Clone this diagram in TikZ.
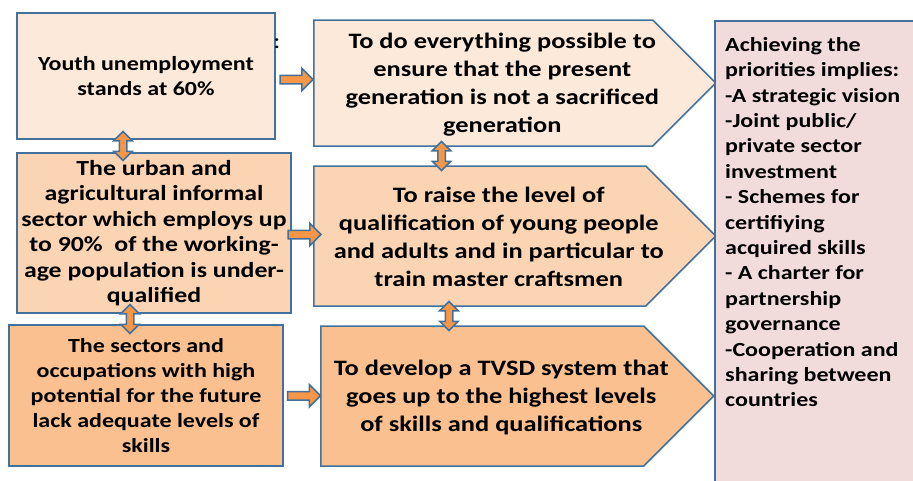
\documentclass[tikz,border=0pt]{standalone}
\usepackage{fontspec}
\setmainfont{Carlito}[FakeStretch=1.2]
\usepackage{tikz}
\usetikzlibrary{arrows.meta,positioning,shapes.arrows,shapes.symbols}

\definecolor{edgeblue}{HTML}{41719C}
\definecolor{peachA}{HTML}{FDE9D9}
\definecolor{peachB}{HTML}{FBD4B4}
\definecolor{peachC}{HTML}{FAC090}
\definecolor{roseG}{HTML}{F2DCDB}
\definecolor{arroworange}{HTML}{F79646}

\tikzset{
  box/.style={draw=edgeblue, line width=1.5pt, align=center, inner sep=0pt,
    font=\fontsize{20}{25}\selectfont\bfseries},
  goal/.style={signal, signal to=east, signal pointer angle=90, draw=edgeblue,
    line width=1.5pt, inner sep=0pt, anchor=west},
  goaltext/.style={align=center, font=\fontsize{22}{28}\selectfont\bfseries},
  harrow/.style={single arrow, draw=edgeblue, fill=arroworange, line width=1.5pt,
    inner xsep=0pt, inner ysep=3.5pt, minimum height=33, single arrow head extend=7pt},
  varrow/.style={double arrow, draw=edgeblue, fill=arroworange, line width=1.5pt,
    inner xsep=0pt, inner ysep=3pt, minimum height=29, double arrow head extend=5.5pt,
    rotate=90}
}

\begin{document}
\begin{tikzpicture}[x=1pt, y=-1pt, >=Stealth]
    \useasboundingbox (0,0) rectangle (913,480);
    \clip (0,0) rectangle (913,480);

    % Situation
    \node[box, fill=peachA, minimum width=258, minimum height=126] (youth) at (146,76)
      {Youth unemployment\\stands at 60\%};
    \node[box, fill=peachB, minimum width=274, minimum height=160,
      font=\fontsize{21.5}{25.5}\selectfont\bfseries] (informal) at (154,233)
      {The urban and\\agricultural informal\\sector which employs up\\to 90\%\ \ of the working-\\age population is under-\\qualified};
    \node[box, fill=peachC, minimum width=274, minimum height=141] (sectors) at (146,395.5)
      {The sectors and\\occupations with high\\potential for the future\\lack adequate levels of\\skills};
    \node[font=\fontsize{22}{25}\selectfont] (colon) at (277,44) {:};

    % Priorities
    \node[goal, fill=peachA, minimum width=402, minimum height=126,
      label={[goaltext, xshift=19, yshift=-2]center:To do everything possible to\\ensure that the present\\generation is not a sacrificed\\generation}]
      (present) at (313,83) {};
    \node[goal, fill=peachB, minimum width=402, minimum height=140,
      label={[goaltext, xshift=19, yshift=-1]center:To raise the level of\\qualification of young people\\and adults and in particular to\\train master craftsmen}]
      (qualify) at (313,236) {};
    \node[goal, fill=peachC, minimum width=393, minimum height=140,
      label={[goaltext, xshift=19, yshift=-2]center:To develop a TVSD system that\\goes up to the highest levels\\of skills and qualifications}]
      (tvsd) at (320,396) {};

    % Conditions
    \node[draw=edgeblue, line width=1.5pt, fill=roseG, anchor=north west,
      minimum width=230, minimum height=490] (cond) at (714,20) {};
    \node[anchor=north west, align=left, inner sep=0pt,
      font=\fontsize{20}{25.4}\selectfont\bfseries] (condtext) at ([shift={(11,17)}]cond.north west)
      {Achieving the\\priorities implies:\\-A strategic vision\\-Joint public/\\private sector\\investment\\- Schemes for\\certifiying\\acquired skills\\- A charter for\\partnership\\governance\\-Cooperation and\\sharing between\\countries};

    % Arrows
    \path (youth.east) -- (present.west) node[midway, harrow] {};
    \path (informal.east) -- (qualify.west) node[midway, harrow] {};
    \path (sectors.east) -- (tvsd.west) node[midway, harrow] {};
    \path ([xshift=-23]youth.south) -- ([xshift=-31]informal.north) node[midway, varrow] {};
    \path ([xshift=-24]informal.south) -- ([xshift=-16]sectors.north) node[midway, varrow] {};
    \path ([xshift=-40]present.south) -- ([xshift=-40]qualify.north) node[midway, varrow] {};
    \path ([xshift=-32]qualify.south) -- ([xshift=-32]tvsd.north) node[midway, varrow] {};
\end{tikzpicture}
\end{document}
